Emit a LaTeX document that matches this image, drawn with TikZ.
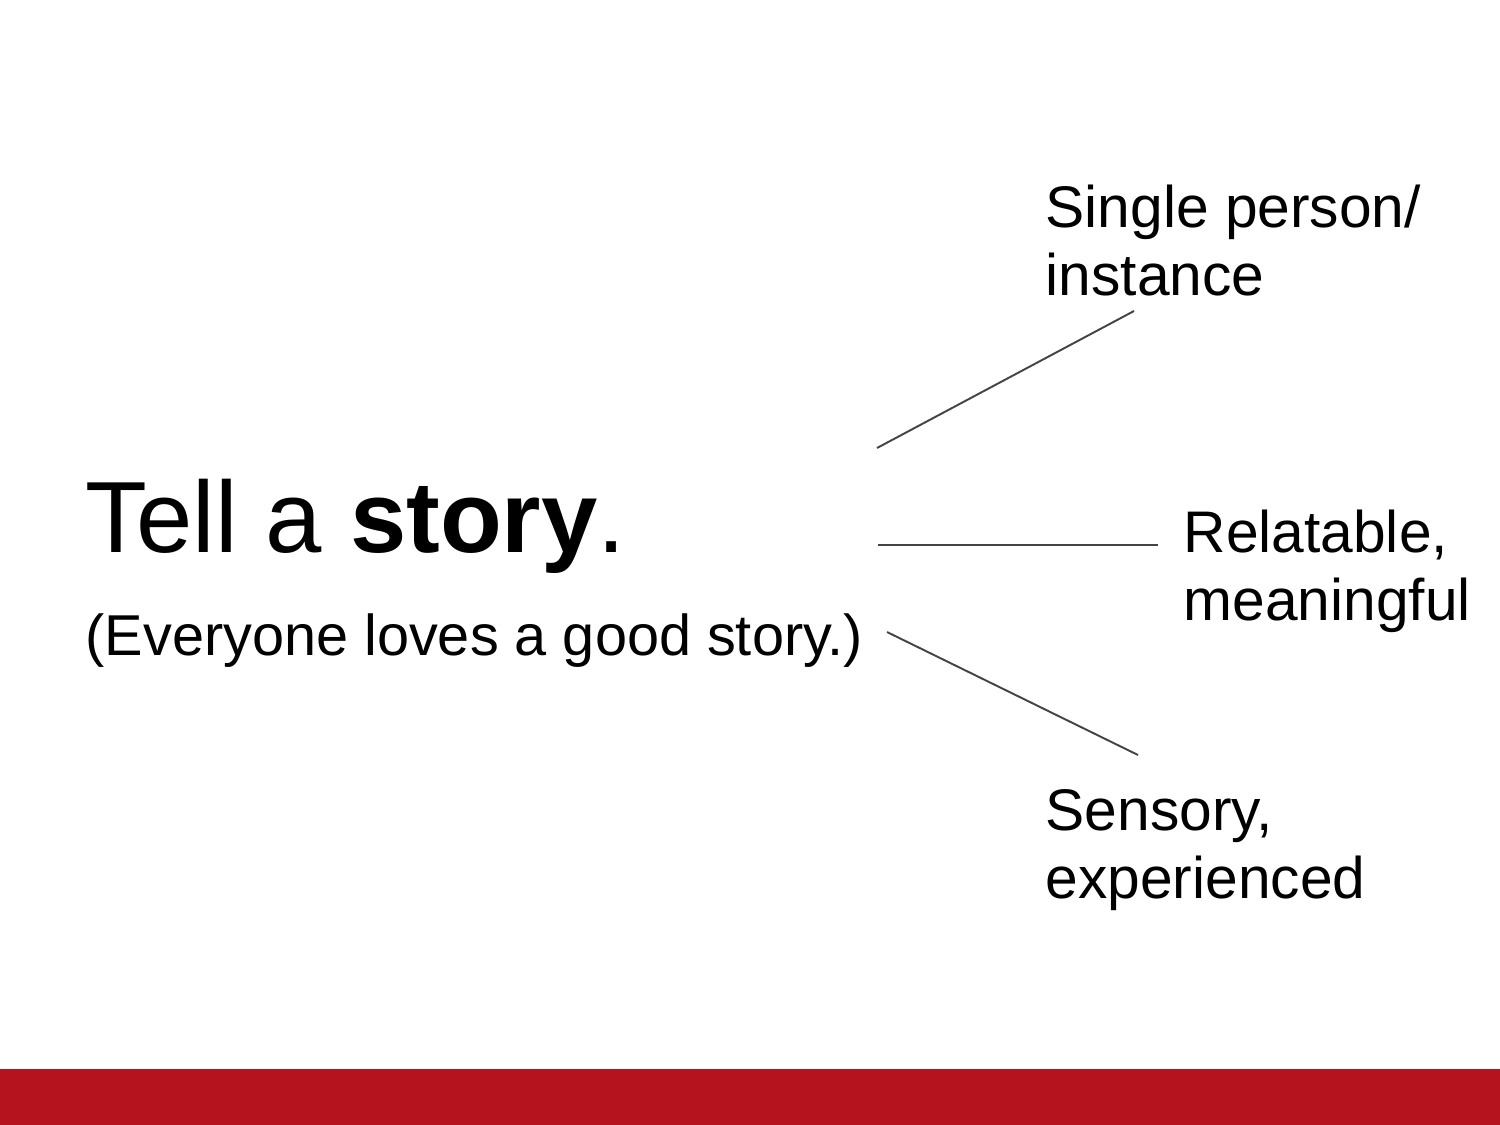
\documentclass[tikz,border=0pt]{standalone}
\usepackage{fontspec}
\setmainfont{Liberation Sans}
\usepackage{xcolor}
\definecolor{barred}{HTML}{B5141E}
\definecolor{linegray}{HTML}{444444}
\tikzset{
    title/.style={anchor=base west, inner sep=0pt, font=\fontsize{28.8}{35}\selectfont},
    subtitle/.style={anchor=base west, inner sep=0pt, font=\fontsize{16.4}{19}\selectfont},
    label/.style={anchor=base west, inner sep=0pt, align=left, font=\fontsize{16.7}{19.3}\selectfont},
    branch/.style={draw=linegray, line width=0.55pt}
}
\begin{document}
\begin{tikzpicture}[x=0.1mm, y=-0.1mm]
		\useasboundingbox (0,0) rectangle (1500,1125);
		\fill[barred] (0,1069) rectangle (1500,1125);

	    \node[title] (tell) at (85, 552) {Tell a \textbf{story}.};
	    \node[subtitle] (loves) at (85, 655) {(Everyone loves a good story.)};

		% base of a two-line label is its last line
	    \node[label] (single) at (1045, 295) {Single person/\\instance};
	    \node[label] (relat) at (1183, 620) {Relatable,\\meaningful};
	    \node[label] (sensory) at (1045, 898) {Sensory,\\experienced};

		\coordinate (s1) at (877,448);
		\coordinate (e1) at (1134,311);
		\coordinate (s2) at (878,545);
		\coordinate (e2) at (1158,545);
		\coordinate (s3) at (887,632);
		\coordinate (e3) at (1138,755);

		% branches
		\draw[branch] (s1) -- (e1);
		\draw[branch] (s2) -- (e2);
		\draw[branch] (s3) -- (e3);
    \end{tikzpicture}
\end{document}
